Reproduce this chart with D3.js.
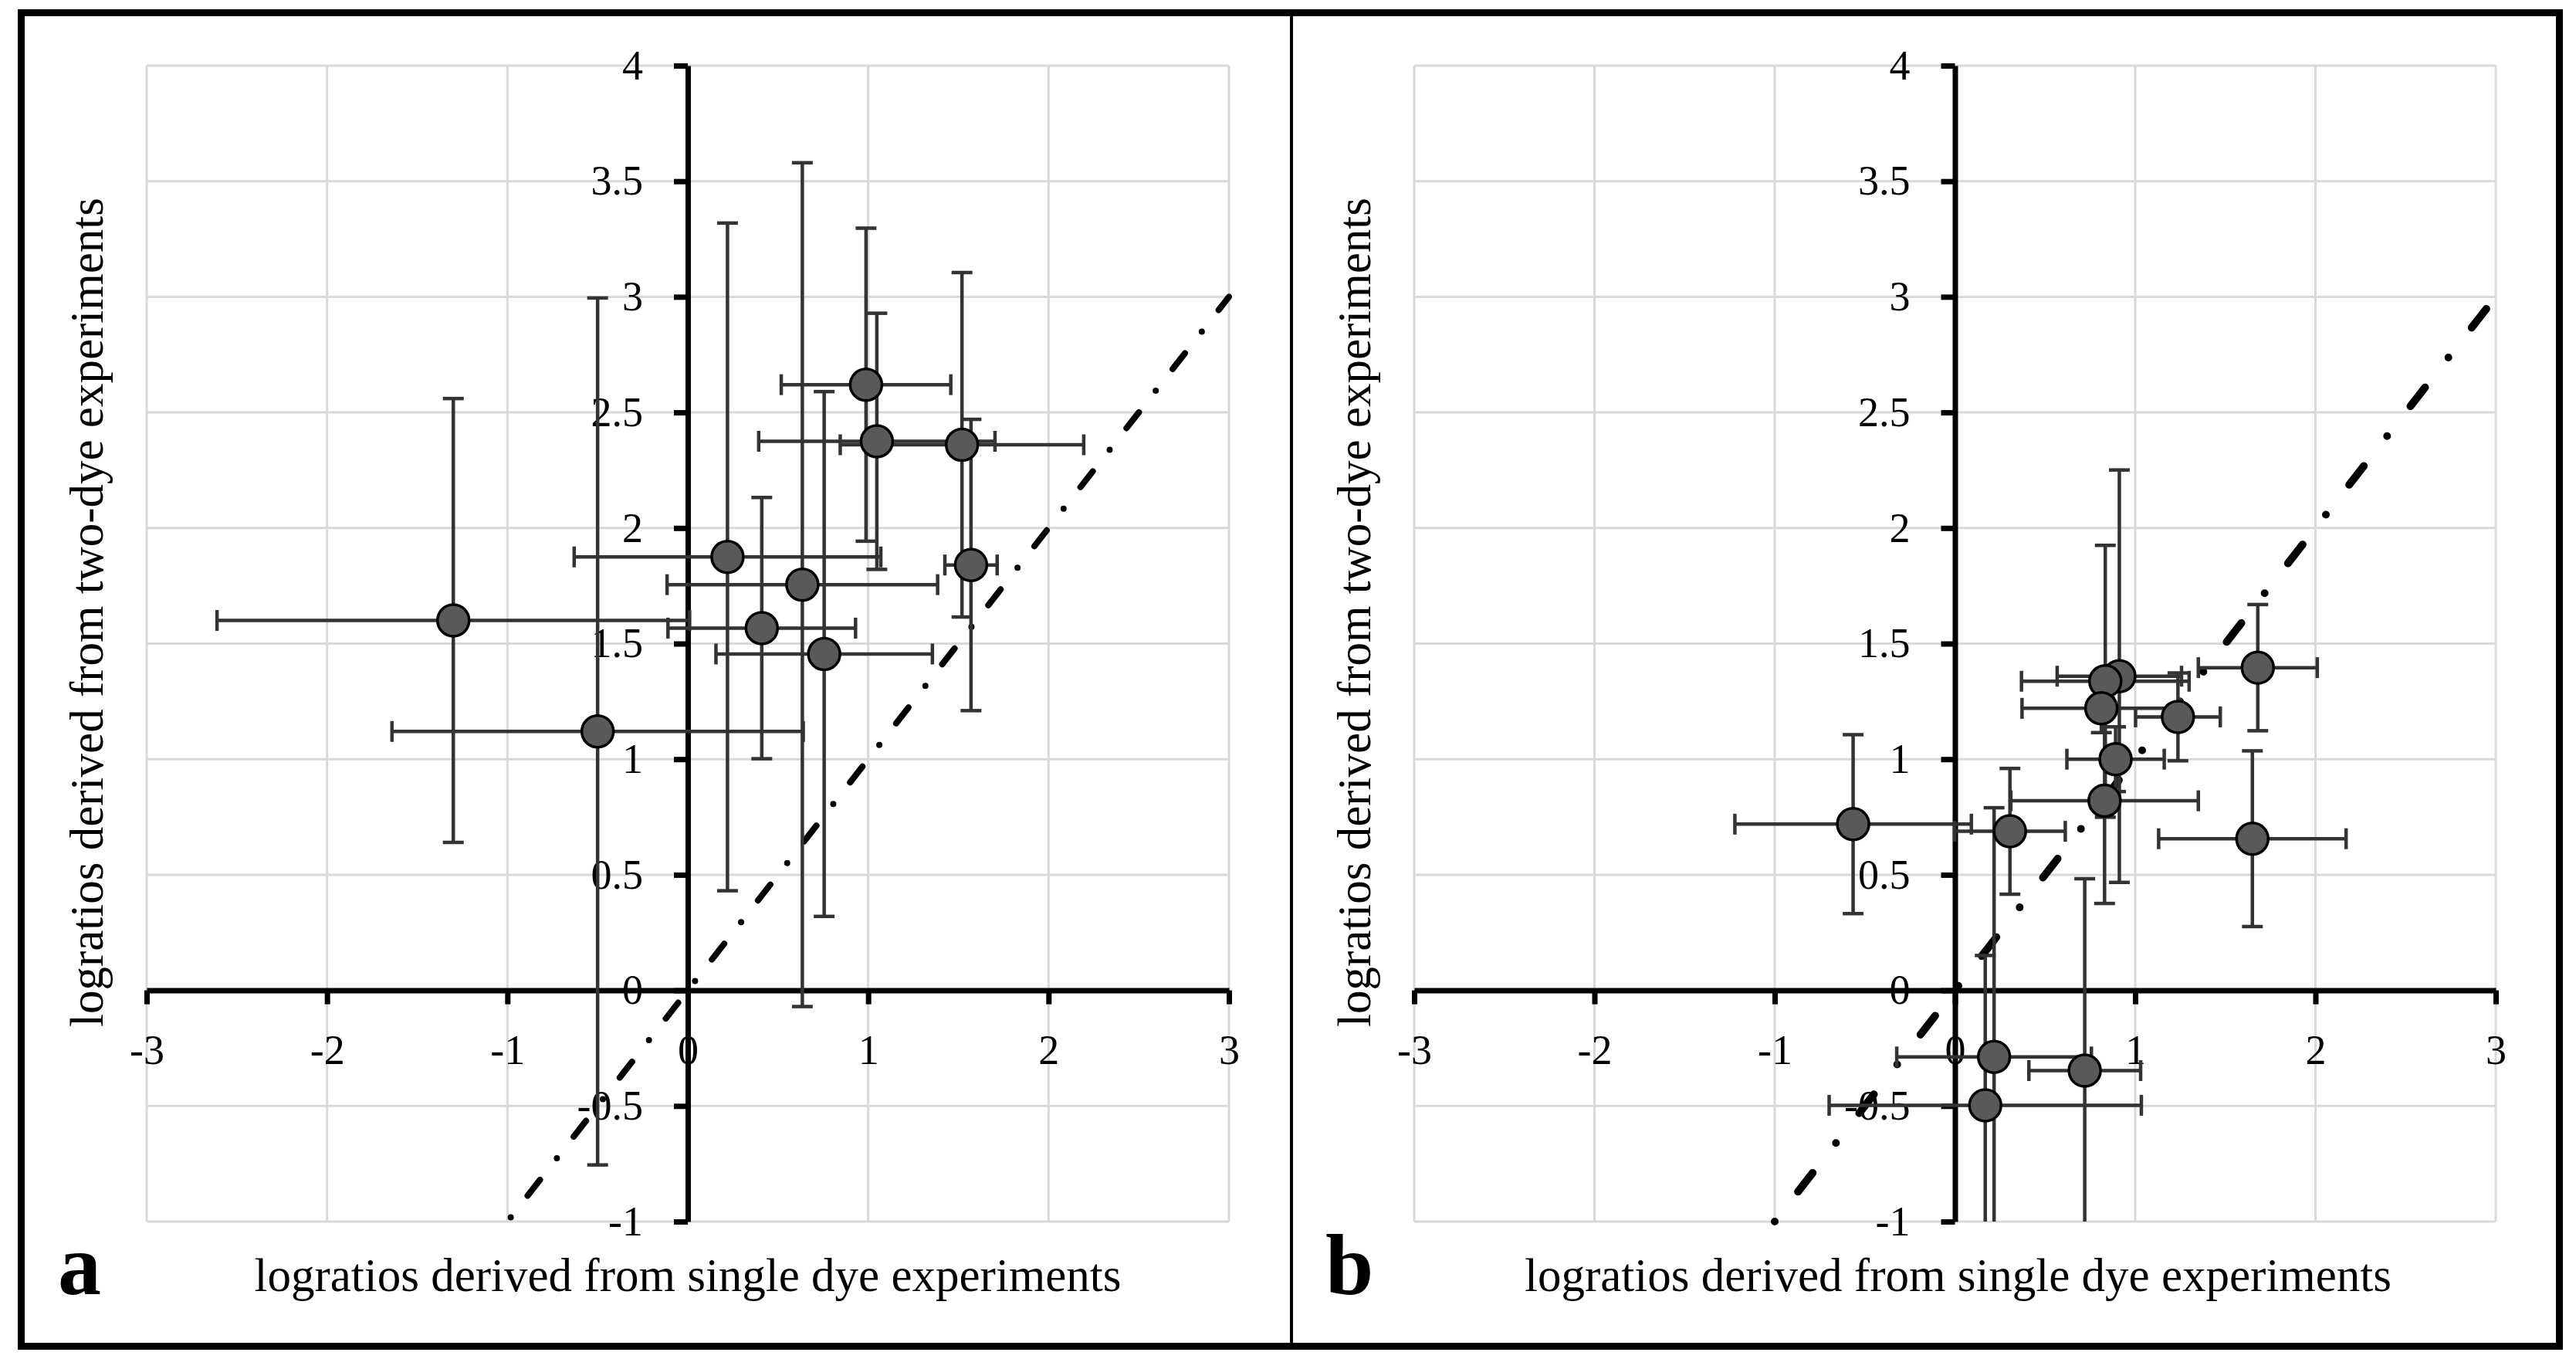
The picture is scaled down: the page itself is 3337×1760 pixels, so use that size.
<!DOCTYPE html>
<html>
<head>
<meta charset="utf-8">
<script src="https://cdn.jsdelivr.net/npm/d3@7"></script>
<style>
	body { margin: 0; background: #fff; }
	svg { display: block; }
	text { font-family: 'Palatino Linotype', 'Book Antiqua', Palatino, 'Liberation Serif', serif; fill: #000; }
</style>
</head>
<body>
<svg id="chart"></svg>
<script>
// axis ticks shared by both panels
const xTicks = [-3, -2, -1, 0, 1, 2, 3];
const yTicks = [-1, -0.5, 0, 0.5, 1, 1.5, 2, 2.5, 3, 3.5, 4];
const xTitle = 'logratios derived from single dye experiments';
const yTitle = 'logratios derived from two-dye experiments';

// panel a: x, y, x error, y error
const aX    = [-1.30, -0.50, 0.22, 0.635, 0.41, 0.756, 0.988, 1.048, 1.52, 1.57];
const aY    = [1.60, 1.12, 1.875, 1.755, 1.567, 1.455, 2.62, 2.375, 2.36, 1.84];
const aXErr = [1.31, 1.14, 0.85, 0.75, 0.52, 0.60, 0.47, 0.655, 0.675, 0.145];
const aYErr = [0.96, 1.875, 1.444, 1.825, 0.565, 1.135, 0.677, 0.554, 0.745, 0.63];
const aLine = [[-1, -1], [3, 3]];

// panel b
const bX    = [-0.565, 0.305, 0.217, 0.168, 0.72, 0.891, 0.912, 0.834, 0.812, 0.83, 1.237, 1.68, 1.65];
const bY    = [0.719, 0.688, -0.288, -0.497, -0.347, 1.0, 1.359, 1.337, 1.22, 0.82, 1.183, 1.396, 0.656];
const bXErr = [0.656, 0.307, 0.54, 0.866, 0.31, 0.27, 0.345, 0.465, 0.44, 0.52, 0.235, 0.33, 0.52];
const bYErr = [0.387, 0.272, 1.078, 0.648, 0.83, 0.14, 0.892, 0.588, 0.105, 0.444, 0.19, 0.273, 0.38];
const bLine = [[-1, -1], [2.95, 2.95]];

const width = 3337, height = 1760;

const config = {
	grid: '#d9d9d9',
	err: '#333',
	marker: '#595959',
	top: 85,
	bottom: 1582,
	tickFont: 54,
	titleFont: 61,
	capHalf: 13.5
};

const svg = d3.select('#chart').attr('width', width).attr('height', height);

function drawPanel(p) {
	const x = d3.scaleLinear().domain([-3, 3]).range([p.left, p.right]);
	const y = d3.scaleLinear().domain([-1, 4]).range([config.bottom, config.top]);
	const g = svg.append('g');

	const points = p.xs.map((v, i) => ({ x: v, y: p.ys[i], ex: p.xErr[i], ey: p.yErr[i] }));

	g.append('clipPath').attr('id', p.id + '-clip')
		.append('rect')
		.attr('x', x(-3)).attr('y', y(4))
		.attr('width', x(3) - x(-3)).attr('height', y(-1) - y(4));

	// gridlines
	g.append('g').selectAll('line')
		.data(xTicks).enter().append('line')
		.attr('x1', d => x(d)).attr('x2', d => x(d))
		.attr('y1', y(4)).attr('y2', y(-1))
		.style('stroke', config.grid).style('stroke-width', 3);
	g.append('g').selectAll('line')
		.data(yTicks).enter().append('line')
		.attr('x1', x(-3)).attr('x2', x(3))
		.attr('y1', d => y(d)).attr('y2', d => y(d))
		.style('stroke', config.grid).style('stroke-width', 3);

	// axes cross at zero
	const yAxisGroup = g.append('g')
		.attr('transform', `translate(${x(0)},0)`)
		.call(d3.axisLeft(y).tickValues(yTicks).tickFormat(d => String(d)).tickSize(18).tickSizeOuter(0).tickPadding(40));
	const xAxisGroup = g.append('g')
		.attr('transform', `translate(0,${y(0)})`)
		.call(d3.axisBottom(x).tickValues(xTicks).tickFormat(d => String(d)).tickSize(18).tickSizeOuter(0).tickPadding(39));
	for (const ax of [yAxisGroup, xAxisGroup]) {
		ax.attr('font-size', config.tickFont).attr('font-family', null);
		ax.select('.domain').style('stroke', '#000').style('stroke-width', 7);
		ax.selectAll('.tick line').style('stroke', '#000').style('stroke-width', 7);
	}

	// y = x reference line
	g.append('path')
		.attr('d', d3.line().x(d => x(d[0])).y(d => y(d[1]))(p.line))
		.style('fill', 'none')
		.style('stroke', '#000')
		.style('stroke-width', p.dashWidth)
		.style('stroke-linecap', 'round')
		.style('stroke-dasharray', p.dash)
		.style('stroke-dashoffset', p.dashOffset);

	// error bars
	const bars = g.append('g').attr('clip-path', `url(#${p.id}-clip)`)
		.style('stroke', config.err).style('stroke-width', 4.5);
	const bar = bars.selectAll('g').data(points).enter().append('g');
	bar.append('line')
		.attr('x1', d => x(d.x)).attr('x2', d => x(d.x))
		.attr('y1', d => y(d.y + d.ey)).attr('y2', d => y(d.y - d.ey));
	bar.append('line')
		.attr('x1', d => x(d.x) - config.capHalf).attr('x2', d => x(d.x) + config.capHalf)
		.attr('y1', d => y(d.y + d.ey)).attr('y2', d => y(d.y + d.ey));
	bar.append('line')
		.attr('x1', d => x(d.x) - config.capHalf).attr('x2', d => x(d.x) + config.capHalf)
		.attr('y1', d => y(d.y - d.ey)).attr('y2', d => y(d.y - d.ey));
	bar.append('line')
		.attr('x1', d => x(d.x - d.ex)).attr('x2', d => x(d.x + d.ex))
		.attr('y1', d => y(d.y)).attr('y2', d => y(d.y));
	bar.append('line')
		.attr('x1', d => x(d.x - d.ex)).attr('x2', d => x(d.x - d.ex))
		.attr('y1', d => y(d.y) - config.capHalf).attr('y2', d => y(d.y) + config.capHalf);
	bar.append('line')
		.attr('x1', d => x(d.x + d.ex)).attr('x2', d => x(d.x + d.ex))
		.attr('y1', d => y(d.y) - config.capHalf).attr('y2', d => y(d.y) + config.capHalf);

	// markers
	g.append('g').selectAll('circle')
		.data(points).enter().append('circle')
		.attr('cx', d => x(d.x)).attr('cy', d => y(d.y))
		.attr('r', 20.5)
		.style('fill', config.marker)
		.style('stroke', '#000')
		.style('stroke-width', 3.5);

	// titles
	g.append('text')
		.attr('x', x(0) + p.titleShift).attr('y', 1672)
		.attr('text-anchor', 'middle')
		.attr('font-size', config.titleFont)
		.text(xTitle);
	g.append('text')
		.attr('transform', `translate(${x(-3) - 57},793) rotate(-90)`)
		.attr('text-anchor', 'middle')
		.attr('font-size', config.titleFont)
		.text(yTitle);
	g.append('text')
		.attr('x', p.labelX).attr('y', 1676)
		.attr('font-size', 112)
		.attr('font-weight', 'bold')
		.text(p.label);
}

// outer frame and divider
svg.append('rect')
	.attr('x', 27.5).attr('y', 16.5)
	.attr('width', 3288).attr('height', 1727)
	.style('fill', 'none').style('stroke', '#000').style('stroke-width', 9);
svg.append('line')
	.attr('x1', 1673).attr('x2', 1673).attr('y1', 16).attr('y2', 1744)
	.style('stroke', '#000').style('stroke-width', 4);

drawPanel({
	id: 'a', label: 'a', labelX: 75, left: 190, right: 1592, titleShift: 0,
	xs: aX, ys: aY, xErr: aXErr, yErr: aYErr, line: aLine,
	dashWidth: 8, dash: '0 35.5 26 35.5', dashOffset: -7
});
drawPanel({
	id: 'b', label: 'b', labelX: 1717, left: 1832, right: 3233, titleShift: 4,
	xs: bX, ys: bY, xErr: bXErr, yErr: bYErr, line: bLine,
	dashWidth: 10, dash: '0 49 31 49', dashOffset: 0
});
</script>
</body>
</html>
